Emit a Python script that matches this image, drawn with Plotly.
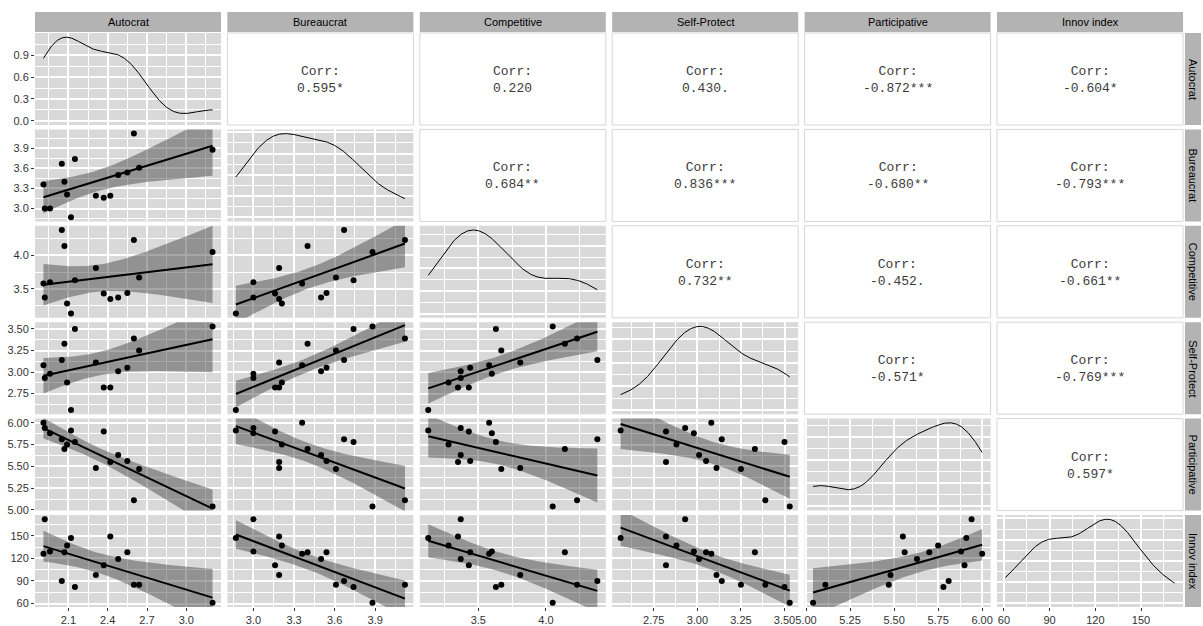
import numpy as np
import plotly.graph_objects as go

# ---------------- data ----------------
var_names = ["Autocrat", "Bureaucrat", "Competitive", "Self-Protect", "Participative", "Innov index"]

autocrat      = [1.91, 1.92, 1.96, 2.05, 2.07, 2.09, 2.12, 2.15, 2.31, 2.37, 2.42, 2.48, 2.55, 2.60, 2.64, 3.20]
bureaucrat    = [3.36, 3.00, 3.00, 3.67, 3.40, 3.21, 2.87, 3.74, 3.19, 3.16, 3.19, 3.50, 3.54, 4.12, 3.61, 3.88]
competitive   = [3.58, 3.37, 3.60, 4.38, 4.14, 3.28, 3.13, 3.63, 3.81, 3.43, 3.35, 3.37, 3.44, 4.23, 3.67, 4.05]
self_protect  = [3.08, 2.93, 2.98, 3.14, 3.33, 2.88, 2.56, 3.50, 3.11, 2.82, 2.82, 3.01, 3.05, 3.39, 3.25, 3.53]
participative = [6.00, 5.94, 5.88, 5.81, 5.70, 5.75, 5.91, 5.78, 5.48, 5.90, 5.55, 5.63, 5.56, 5.11, 5.47, 5.04]
innov_index   = [126, 172, 129, 90, 128, 137, 147, 82, 98, 111, 149, 119, 128, 85, 85, 61]

# correlation labels shown in the upper triangle (row, col) -> text
corr_labels = {
    (0, 1): "0.595*", (0, 2): "0.220", (0, 3): "0.430.", (0, 4): "-0.872***", (0, 5): "-0.604*",
    (1, 2): "0.684**", (1, 3): "0.836***", (1, 4): "-0.680**", (1, 5): "-0.793***",
    (2, 3): "0.732**", (2, 4): "-0.452.", (2, 5): "-0.661**",
    (3, 4): "-0.571*", (3, 5): "-0.769***",
    (4, 5): "0.597*",
}

# tick settings per variable: (tick0, dtick, format)
tick_specs = [
    (2.1, 0.3, ".1f"),
    (3.0, 0.3, ".1f"),
    (3.5, 0.5, ".1f"),
    (2.75, 0.25, ".2f"),
    (5.0, 0.25, ".2f"),
    (60, 30, "d"),
]
density_ticks = [0.0, 0.3, 0.6, 0.9]

data = [np.array(v, dtype=float) for v in
        [autocrat, bureaucrat, competitive, self_protect, participative, innov_index]]
N = len(var_names)

# ---------------- helpers ----------------
def expand(lo, hi, f=0.05):
    s = hi - lo
    return [lo - f * s, hi + f * s]

def bw_nrd0(x):
    sd = np.std(x, ddof=1)
    q75, q25 = np.percentile(x, [75, 25])
    lo = min(sd, (q75 - q25) / 1.34)
    return 0.9 * lo * len(x) ** (-0.2)

def kde(x):
    bw = bw_nrd0(x)
    xs = np.linspace(x.min(), x.max(), 512)
    ys = np.exp(-0.5 * ((xs[:, None] - x[None, :]) / bw) ** 2).sum(axis=1) / (len(x) * bw * np.sqrt(2 * np.pi))
    return xs, ys

T975 = 2.144787  # t quantile, df = 14

def lm_band(x, y):
    n = len(x)
    b1, b0 = np.polyfit(x, y, 1)
    xs = np.linspace(x.min(), x.max(), 80)
    yhat = b0 + b1 * xs
    resid = y - (b0 + b1 * x)
    s = np.sqrt((resid ** 2).sum() / (n - 2))
    sxx = ((x - x.mean()) ** 2).sum()
    se = s * np.sqrt(1.0 / n + (xs - x.mean()) ** 2 / sxx)
    return xs, yhat, yhat - T975 * se, yhat + T975 * se

def nice_step(maxv):
    raw = maxv / 4.0
    p = 10 ** np.floor(np.log10(raw))
    for m in [1, 2, 2.5, 3, 4, 5, 10]:
        if m * p >= raw:
            return m * p
    return 10 * p

# ---------------- geometry ----------------
W, H = 1203, 626
ML, MR, MT, MB = 35, 20, 33, 19
PW, PH = W - ML - MR, H - MT - MB
cw, cstep = 186.0, 192.4
rh, rstep = 92.0, 96.4

PANEL_BG = "#D9D9D9"
STRIP_BG = "#B3B3B3"
GRID = "#FFFFFF"
TICK_FONT = dict(family="Liberation Sans, Arial, sans-serif", size=11, color="#333333")
STRIP_FONT = dict(family="Liberation Sans, Arial, sans-serif", size=11, color="#000000")

fig = go.Figure()
layout = dict(
    template="none",
    width=W, height=H,
    margin=dict(l=ML, r=MR, t=MT, b=MB, pad=0),
    paper_bgcolor="white", plot_bgcolor="white",
    showlegend=False,
)
shapes, annotations = [], []

ranges = [expand(d.min(), d.max()) for d in data]

for r in range(N):
    for c in range(N):
        k = r * N + c + 1
        xa = "xaxis" if k == 1 else f"xaxis{k}"
        ya = "yaxis" if k == 1 else f"yaxis{k}"
        xr = "x" if k == 1 else f"x{k}"
        yr = "y" if k == 1 else f"y{k}"

        x0 = c * cstep / PW
        x1 = (c * cstep + cw) / PW
        y1 = 1 - r * rstep / PH
        y0 = 1 - (r * rstep + rh) / PH

        t0x, dtx, fmtx = tick_specs[c]
        xaxis = dict(domain=[x0, x1], anchor=yr, range=ranges[c], zeroline=False,
                     automargin=False,
                     showline=False, showgrid=True, gridcolor=GRID, gridwidth=1.5,
                     tick0=t0x, dtick=dtx, tickformat=fmtx, tickfont=TICK_FONT,
                     minor=dict(tick0=t0x - dtx / 2, dtick=dtx / 2, showgrid=True,
                                gridcolor=GRID, gridwidth=0.7),
                     showticklabels=(r == N - 1),
                     ticks="outside" if r == N - 1 else "", ticklen=3, tickwidth=1,
                     tickcolor="#333333", fixedrange=True)
        yaxis = dict(domain=[y0, y1], anchor=xr, zeroline=False, showline=False,
                     automargin=False,
                     showgrid=True, gridcolor=GRID, gridwidth=1.5, tickfont=TICK_FONT,
                     showticklabels=(c == 0), ticks="outside" if c == 0 else "",
                     ticklen=3, tickwidth=1, tickcolor="#333333", fixedrange=True)

        if r > c:
            t0y, dty, fmty = tick_specs[r]
            yaxis.update(range=ranges[r], tick0=t0y, dtick=dty, tickformat=fmty,
                         minor=dict(tick0=t0y - dty / 2, dtick=dty / 2, showgrid=True,
                                    gridcolor=GRID, gridwidth=0.7))
            xs, yhat, lo, hi = lm_band(data[c], data[r])
            fig.add_trace(go.Scatter(
                x=np.concatenate([xs, xs[::-1]]), y=np.concatenate([hi, lo[::-1]]),
                mode="lines", fill="toself", fillcolor="rgba(60,60,60,0.45)",
                line=dict(width=0), hoverinfo="skip", xaxis=xr, yaxis=yr))
            fig.add_trace(go.Scatter(x=xs, y=yhat, mode="lines",
                                     line=dict(color="black", width=2),
                                     xaxis=xr, yaxis=yr))
            fig.add_trace(go.Scatter(x=data[c], y=data[r], mode="markers",
                                     marker=dict(color="black", size=6),
                                     xaxis=xr, yaxis=yr))
            shapes.append(dict(type="rect", xref=f"{xr} domain", yref=f"{yr} domain",
                               x0=0, x1=1, y0=0, y1=1, fillcolor=PANEL_BG,
                               line=dict(width=0), layer="below"))
        elif r == c:
            xs, ys = kde(data[c])
            ymax = ys.max()
            if r == 0:
                yaxis.update(range=[-0.05 * ymax, 1.05 * ymax], tickvals=density_ticks,
                             tickformat=".1f",
                             minor=dict(tickvals=[0.15, 0.45, 0.75, 1.05], showgrid=True,
                                        gridcolor=GRID, gridwidth=0.7))
            else:
                st = nice_step(ymax)
                yaxis.update(range=[-0.05 * ymax, 1.05 * ymax], tick0=0, dtick=st,
                             minor=dict(tick0=st / 2, dtick=st / 2, showgrid=True,
                                        gridcolor=GRID, gridwidth=0.7))
            fig.add_trace(go.Scatter(x=xs, y=ys, mode="lines",
                                     line=dict(color="black", width=1),
                                     xaxis=xr, yaxis=yr))
            shapes.append(dict(type="rect", xref=f"{xr} domain", yref=f"{yr} domain",
                               x0=0, x1=1, y0=0, y1=1, fillcolor=PANEL_BG,
                               line=dict(width=0), layer="below"))
        else:
            xaxis.update(showgrid=False, minor=dict(showgrid=False), range=[0, 1])
            yaxis.update(showgrid=False, minor=dict(showgrid=False), range=[0, 1])
            fig.add_trace(go.Scatter(x=[0.5], y=[0.5], mode="markers",
                                     marker=dict(opacity=0), hoverinfo="skip",
                                     xaxis=xr, yaxis=yr))
            shapes.append(dict(type="rect", xref=f"{xr} domain", yref=f"{yr} domain",
                               x0=0, x1=1, y0=0, y1=1, fillcolor="rgba(0,0,0,0)",
                               line=dict(width=1, color="#D6D6D6"), layer="above"))
            annotations.append(dict(xref=f"{xr} domain", yref=f"{yr} domain",
                                    x=0.5, y=0.49, showarrow=False,
                                    text="Corr:<br>" + corr_labels[(r, c)],
                                    font=dict(family="Liberation Mono, Courier New, monospace",
                                              size=13, color="#3C3C3C"),
                                    align="center"))

        layout[xa] = xaxis
        layout[ya] = yaxis

# strips
for c in range(N):
    x0 = c * cstep / PW
    x1 = (c * cstep + cw) / PW
    shapes.append(dict(type="rect", xref="paper", yref="paper", x0=x0, x1=x1,
                       y0=1 + 1 / PH, y1=1 + 21 / PH, fillcolor=STRIP_BG,
                       line=dict(width=0)))
    annotations.append(dict(xref="paper", yref="paper", x=(x0 + x1) / 2, y=1 + 11 / PH,
                            text=var_names[c], showarrow=False, font=STRIP_FONT,
                            xanchor="center", yanchor="middle"))
for r in range(N):
    y1 = 1 - r * rstep / PH
    y0 = 1 - (r * rstep + rh) / PH
    shapes.append(dict(type="rect", xref="paper", yref="paper",
                       x0=1 + 2 / PW, x1=1 + 18 / PW, y0=y0, y1=y1,
                       fillcolor=STRIP_BG, line=dict(width=0)))
    annotations.append(dict(xref="paper", yref="paper", x=1 + 10 / PW, y=(y0 + y1) / 2,
                            text=var_names[r], showarrow=False, textangle=90,
                            font=STRIP_FONT, xanchor="center", yanchor="middle"))

layout["shapes"] = shapes
layout["annotations"] = annotations
fig.update_layout(**layout)
fig.write_html("out.html", config={"displayModeBar": False},
               post_script="document.body.style.margin='0';document.body.style.overflow='hidden';")
